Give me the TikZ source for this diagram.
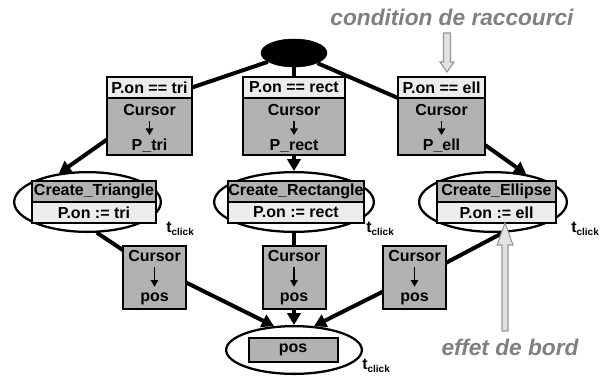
\documentclass[tikz,border=0pt]{standalone}
\usepackage{fontspec}
\setmainfont{Liberation Sans}
\usetikzlibrary{arrows.meta,shapes.geometric}

\definecolor{grisfonce}{RGB}{178,178,178}
\definecolor{grisclair}{RGB}{236,236,236}
\definecolor{gristexte}{RGB}{128,128,128}
\definecolor{grisfleche}{RGB}{226,226,226}
\definecolor{grisbord}{RGB}{150,150,150}

\tikzset{
  texte/.style={font=\fontsize{12}{14}\selectfont\bfseries, inner sep=0pt, text height=9pt, text depth=2.5pt},
  entete/.style={draw, line width=1.5pt, fill=grisclair, minimum height=15.75pt, inner sep=0pt, outer sep=0pt, font=\fontsize{12}{14}\selectfont\bfseries},
  corps/.style={draw, line width=1.5pt, fill=grisfonce, inner sep=0pt, outer sep=0pt, font=\fontsize{12}{14}\selectfont\bfseries},
  trans/.style={ellipse, draw, line width=1.7pt, minimum height=44.8pt, inner sep=0pt},
  lien/.style={line width=3pt},
  fleche/.style={lien, -{Triangle[length=9pt,width=10pt]}},
  petite/.style={line width=1.3pt, -{Triangle[length=5pt,width=5.5pt]}, shorten <=2pt, shorten >=2pt},
  tclic/.style={font=\fontsize{12}{14}\selectfont\bfseries, inner sep=0pt, anchor=base west},
  remarque/.style={font=\fontsize{17}{20}\selectfont\bfseries\itshape, text=gristexte, inner sep=0pt, anchor=base},
  creux/.style={draw=grisbord, fill=grisfleche, line width=0.8pt},
}

\begin{document}
\begin{tikzpicture}[x=0.75pt, y=-0.75pt]
	\useasboundingbox (0,0) rectangle (605,376);
	
	% place de depart
	\node[ellipse, draw, fill=black, minimum width=49.5pt, minimum height=21pt, inner sep=0pt] (debut) at (294,53) {};
	
	% gardes
	\node[entete, minimum width=63.75pt] (g1h) at (149.5,87.5) {P.on == tri};
	\node[corps, minimum width=63.75pt, minimum height=42.75pt, anchor=north] (g1b) at (g1h.south) {};
	\node[texte, anchor=base] (c1) at (149.5,115) {Cursor};
	\node[texte, anchor=base] (q1) at (149.5,150) {P\_tri};
	
	\node[entete, minimum width=76.5pt] (g2h) at (294,87.5) {P.on == rect};
	\node[corps, minimum width=76.5pt, minimum height=42.75pt, anchor=north] (g2b) at (g2h.south) {};
	\node[texte, anchor=base] (c2) at (294,115) {Cursor};
	\node[texte, anchor=base] (q2) at (294,150) {P\_rect};
	
	\node[entete, minimum width=65.25pt] (g3h) at (441.5,87.5) {P.on == ell};
	\node[corps, minimum width=65.25pt, minimum height=42.75pt, anchor=north] (g3b) at (g3h.south) {};
	\node[texte, anchor=base] (c3) at (441.5,115) {Cursor};
	\node[texte, anchor=base] (q3) at (441.5,150) {P\_ell};
	
	\draw[petite] (c1) -- (q1);
	\draw[petite] (c2) -- (q2);
	\draw[petite] (c3) -- (q3);
	
	% transitions
	\node[trans, minimum width=110pt] (t1) at (87.5,202) {};
	\node[entete, fill=grisfonce, minimum width=93pt] (t1h) at (94,191.5) {Create\_Triangle};
	\node[entete, minimum width=93pt, anchor=north] (t1b) at (t1h.south) {P.on := tri};
	\node[tclic] (k1) at (166,232) {t\raisebox{-0.4ex}{\fontsize{7.5}{8}\selectfont click}};
	
	\node[trans, minimum width=119.8pt] (t2) at (294,202) {};
	\node[entete, fill=grisfonce, minimum width=102pt] (t2h) at (296,191.5) {Create\_Rectangle};
	\node[entete, minimum width=102pt, anchor=north] (t2b) at (t2h.south) {P.on := rect};
	\node[tclic] (k2) at (366,232) {t\raisebox{-0.4ex}{\fontsize{7.5}{8}\selectfont click}};
	
	\node[trans, minimum width=110.8pt] (t3) at (493,202) {};
	\node[entete, fill=grisfonce, minimum width=89.25pt] (t3h) at (496.5,191.5) {Create\_Ellipse};
	\node[entete, minimum width=89.25pt, anchor=north] (t3b) at (t3h.south) {P.on := ell};
	\node[tclic] (k3) at (571,232) {t\raisebox{-0.4ex}{\fontsize{7.5}{8}\selectfont click}};
	
	% affectations de pos
	\node[corps, minimum width=47.25pt, minimum height=47.25pt] (p1) at (154.5,277.5) {};
	\node[texte, anchor=base] (c4) at (154.5,261) {Cursor};
	\node[texte, anchor=base] (r1) at (154.5,301.7) {pos};
	
	\node[corps, minimum width=47.25pt, minimum height=47.25pt] (p2) at (294,277.5) {};
	\node[texte, anchor=base] (c5) at (294,261) {Cursor};
	\node[texte, anchor=base] (r2) at (294,301.7) {pos};
	
	\node[corps, minimum width=47.25pt, minimum height=47.25pt] (p3) at (414.5,277.5) {};
	\node[texte, anchor=base] (c6) at (414.5,261) {Cursor};
	\node[texte, anchor=base] (r3) at (414.5,301.7) {pos};
	
	\draw[petite] (c4) -- (r1);
	\draw[petite] (c5) -- (r2);
	\draw[petite] (c6) -- (r3);
	
	% place finale
	\node[trans, minimum width=101.8pt, minimum height=35.8pt] (fin) at (294,350) {};
	\node[corps, minimum width=66.75pt, minimum height=18pt] (finb) at (293,350) {pos};
	\node[tclic] (k4) at (362,369.5) {t\raisebox{-0.3ex}{\fontsize{7.5}{8}\selectfont click}};
	
	% arcs
	\draw[lien] (debut) -- (g1h.east);
	\draw[lien] (debut) -- (g2h);
	\draw[lien] (debut) -- (g3h.south west);
	
	\draw[fleche] (g1b.197) -- (t1.135);
	\draw[fleche] (g2b) -- (t2);
	\draw[fleche] (g3b.-23) -- (t3.40);
	
	\draw[lien] (t1.-73) -- (p1.139);
	\draw[lien] (t2) -- (p2);
	\draw[lien] (t3.-72) -- (p3.25);
	
	\draw[fleche] (p1.-9) -- (fin.130);
	\draw[fleche] (p2) -- (fin);
	\draw[fleche] (p3.204) -- (fin.50);
	
	% remarques
	\node[remarque] (cond) at (452,25) {condition de raccourci};
	\node[remarque] (effet) at (510,355) {effet de bord};
	\coordinate (ca) at (447,33);
	\coordinate (eb) at (505,331);
	\draw[creux] (ca) ++(-3.5,0) -- ++(0,29) -- ++(-3.5,0) -- ++(7,10) -- ++(7,-10) -- ++(-3.5,0) -- ++(0,-29) -- cycle;
	\draw[creux] (eb) ++(-3,0) -- ++(0,-86) -- ++(-5,0) -- ++(8,-22) -- ++(8,22) -- ++(-5,0) -- ++(0,86) -- cycle;
\end{tikzpicture}
\end{document}
